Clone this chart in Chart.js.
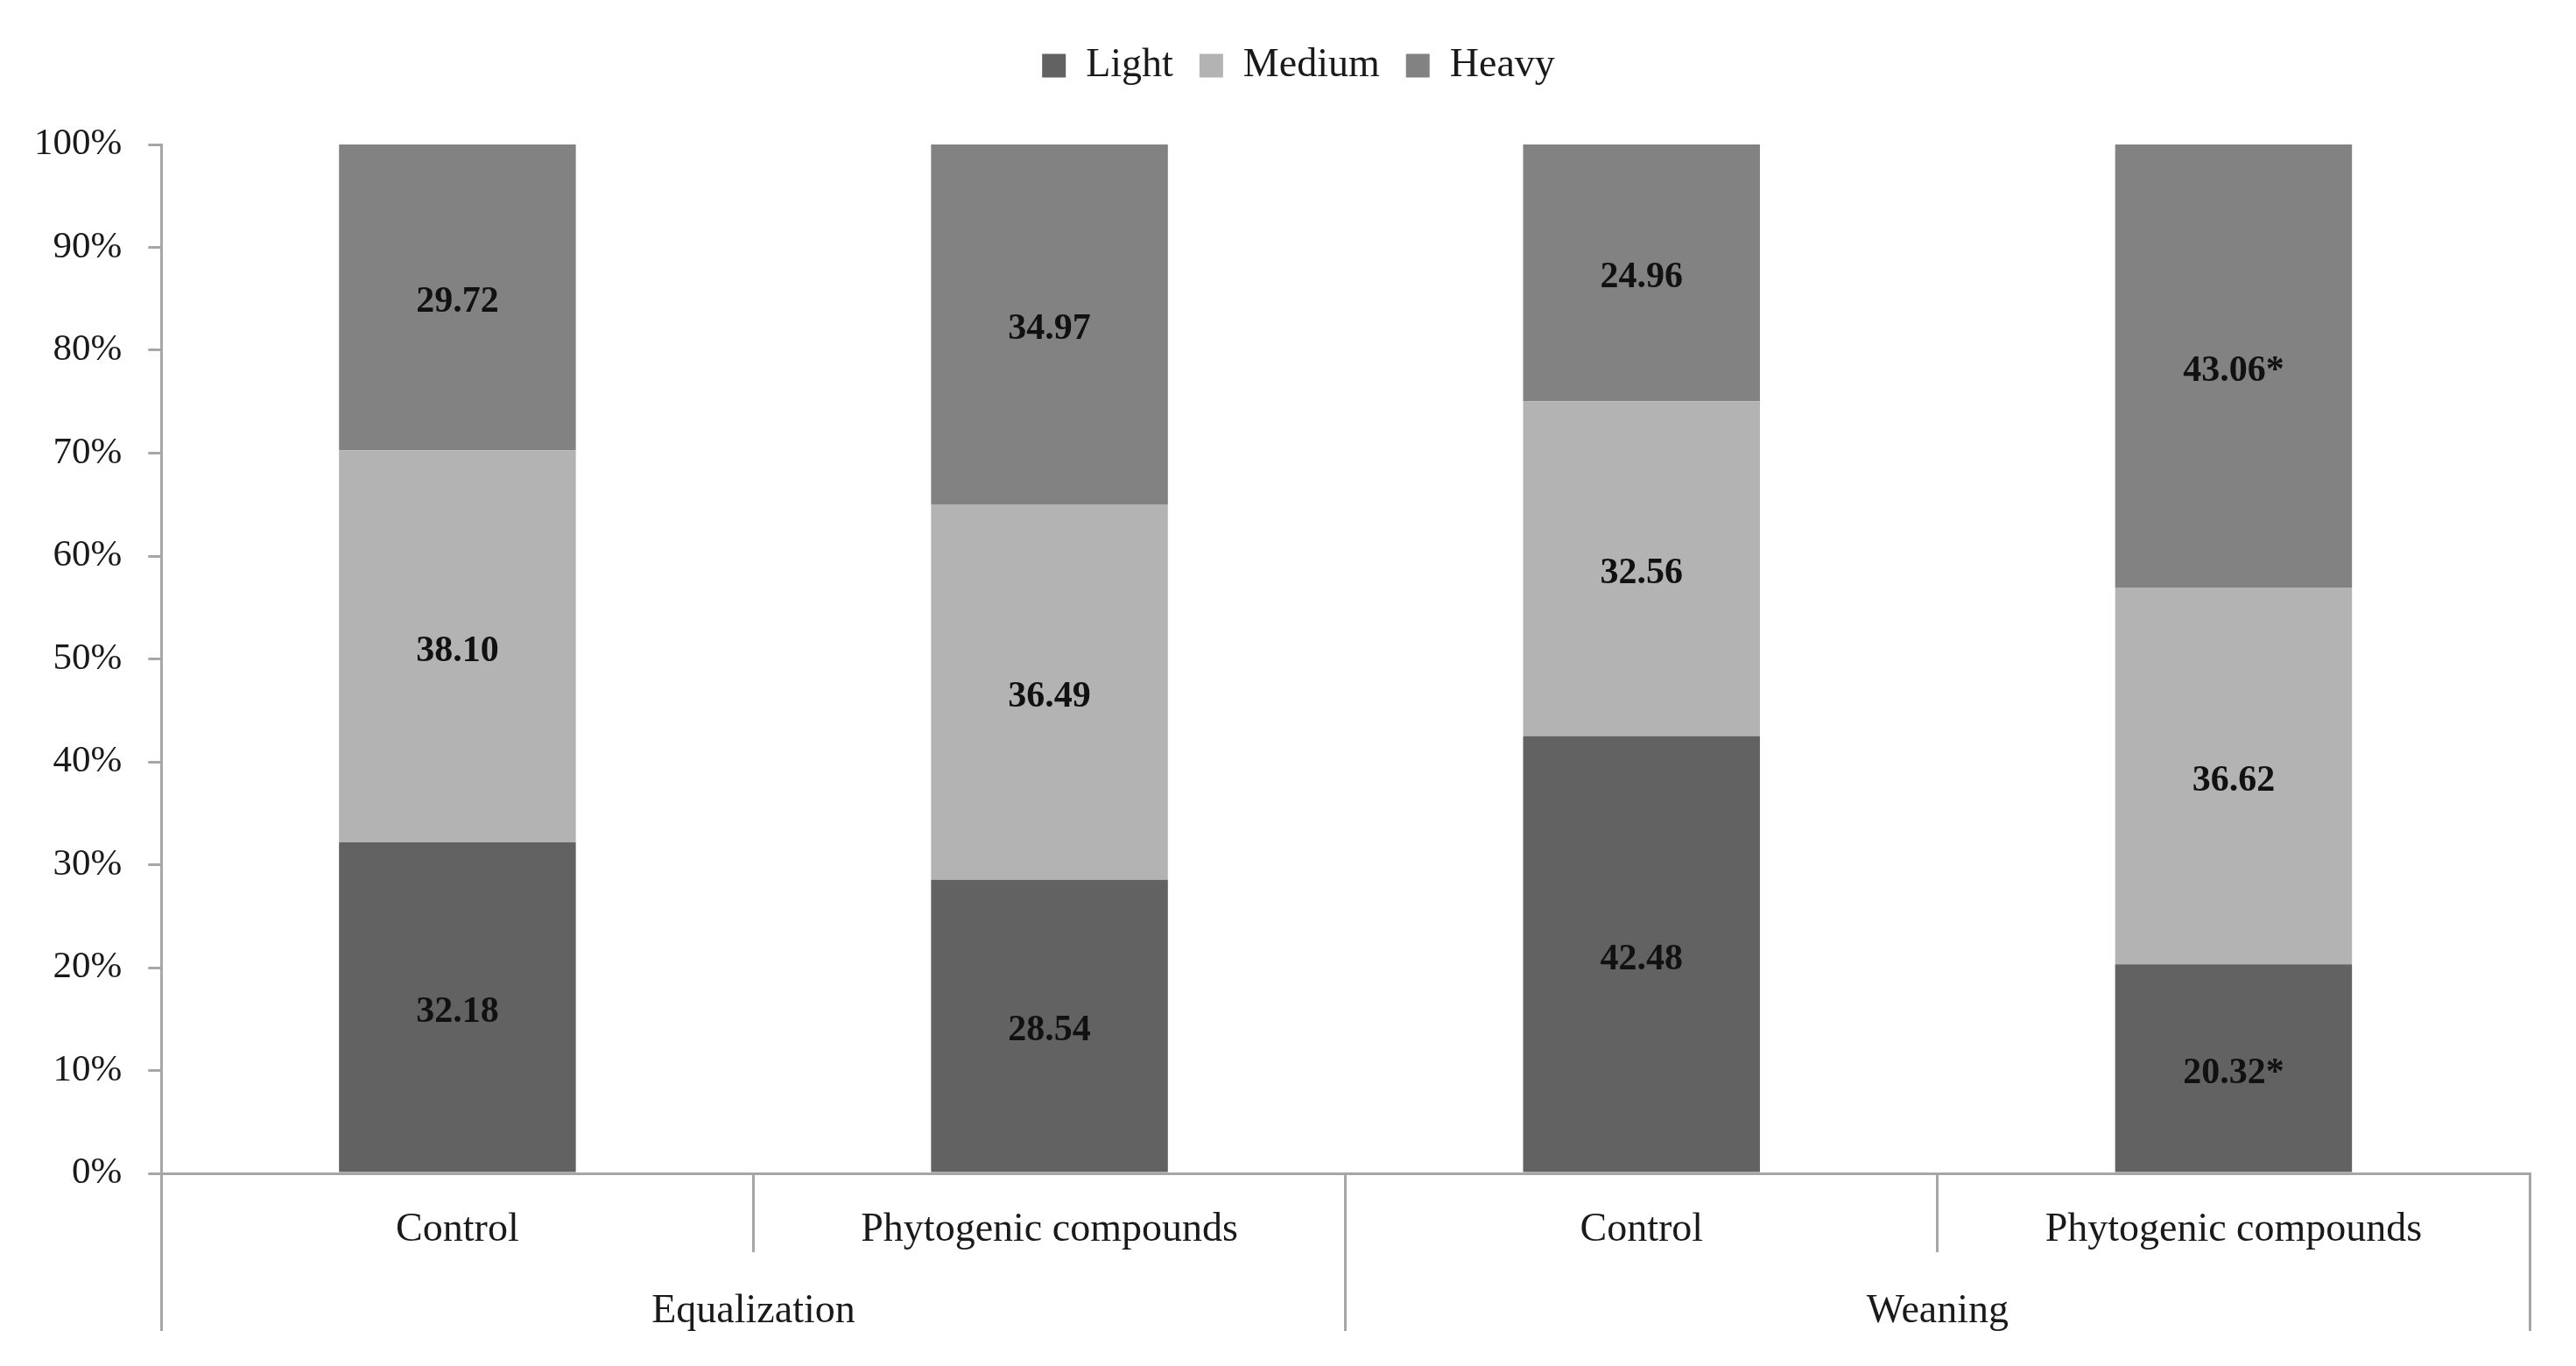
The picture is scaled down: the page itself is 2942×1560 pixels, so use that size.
<!DOCTYPE html>
<html>
<head>
<meta charset="utf-8">
<script src="https://cdn.jsdelivr.net/npm/chart.js@4.4.1/dist/chart.umd.min.js"></script>
<style>
  html, body { margin: 0; padding: 0; background: #ffffff; }
  #wrap { width: 2942px; height: 1560px; }
</style>
</head>
<body>
<div id="wrap"><canvas id="chartCanvas" width="2942" height="1560"></canvas></div>
<script>
  // Categories and groups
  const treatments = ['Control', 'Phytogenic compounds', 'Control', 'Phytogenic compounds'];
  const phases = ['Equalization', 'Weaning'];

  // Series (percent of piglets)
  const lightValues = [32.18, 28.54, 42.48, 20.32];
  const mediumValues = [38.10, 36.49, 32.56, 36.62];
  const heavyValues = [29.72, 34.97, 24.96, 43.06];

  // Significance marks shown after the value
  const lightMarks = ['', '', '', '*'];
  const mediumMarks = ['', '', '', ''];
  const heavyMarks = ['', '', '', '*'];

  const yTicks = [0, 10, 20, 30, 40, 50, 60, 70, 80, 90, 100];

  const serif = '"Liberation Serif", "Times New Roman", serif';
  const axisColor = '#a6a6a6';
  const textColor = '#1a1a1a';

  // Draw value labels at the centre of each bar segment
  const segmentLabels = {
    id: 'segmentLabels',
    afterDatasetsDraw(chart) {
      const ctx = chart.ctx;
      ctx.save();
      ctx.font = 'bold 42px ' + serif;
      ctx.fillStyle = '#111111';
      ctx.textAlign = 'center';
      ctx.textBaseline = 'middle';
      chart.data.datasets.forEach((ds, di) => {
        const meta = chart.getDatasetMeta(di);
        meta.data.forEach((bar, i) => {
          const p = bar.getCenterPoint();
          ctx.fillText(ds.data[i].toFixed(2) + ds.marks[i], p.x, p.y + 6);
        });
      });
      ctx.restore();
    }
  };

  // Extra room between legend and plot, and nudge the legend a bit right
  const legendGap = {
    id: 'legendGap',
    beforeInit(chart) {
      const fit = chart.legend.fit;
      chart.legend.fit = function() {
        fit.bind(chart.legend)();
        this.height += 57;
      };
    },
    afterLayout(chart) {
      chart.legend.left += 34;
      chart.legend.right += 34;
    }
  };

  const ctx = document.getElementById('chartCanvas').getContext('2d');

  new Chart(ctx, {
    type: 'bar',
    data: {
      labels: treatments,
      datasets: [
        { label: 'Light', data: lightValues, marks: lightMarks, backgroundColor: '#626262' },
        { label: 'Medium', data: mediumValues, marks: mediumMarks, backgroundColor: '#b3b3b3' },
        { label: 'Heavy', data: heavyValues, marks: heavyMarks, backgroundColor: '#828282' }
      ]
    },
    options: {
      responsive: false,
      maintainAspectRatio: false,
      animation: false,
      layout: { padding: { top: 22, left: 9, right: 53, bottom: 35 } },
      datasets: {
        bar: { categoryPercentage: 0.8, barPercentage: 0.5, borderWidth: 0 }
      },
      plugins: {
        legend: {
          position: 'top',
          align: 'center',
          labels: {
            boxWidth: 27,
            boxHeight: 27,
            padding: 30,
            color: textColor,
            font: { family: serif, size: 46 }
          }
        },
        title: { display: false },
        tooltip: { enabled: false }
      },
      scales: {
        x: {
          stacked: true,
          offset: true,
          weight: 0,
          grid: {
            offset: true,
            drawOnChartArea: false,
            drawTicks: true,
            tickLength: 90,
            color: axisColor,
            lineWidth: 3
          },
          border: { display: true, color: axisColor, width: 3 },
          ticks: {
            padding: -53,
            color: textColor,
            maxRotation: 0,
            autoSkip: false,
            font: { family: serif, size: 46, lineHeight: 1.2 }
          },
          afterFit(scale) { scale.height = 90; }
        },
        x2: {
          type: 'category',
          labels: phases,
          position: 'bottom',
          offset: true,
          weight: 1,
          grid: {
            offset: true,
            drawOnChartArea: false,
            drawTicks: true,
            tickLength: 90,
            color: axisColor,
            lineWidth: 3
          },
          border: { display: false },
          ticks: {
            padding: -50,
            color: textColor,
            maxRotation: 0,
            autoSkip: false,
            font: { family: serif, size: 46, lineHeight: 1.2 }
          },
          afterFit(scale) { scale.height = 95; }
        },
        y: {
          stacked: true,
          min: 0,
          max: 100,
          afterBuildTicks(scale) {
            scale.ticks = yTicks.map(v => ({ value: v }));
          },
          grid: {
            drawOnChartArea: false,
            drawTicks: true,
            tickLength: 15,
            color: axisColor,
            lineWidth: 3
          },
          border: { display: true, color: axisColor, width: 3 },
          ticks: {
            padding: 30,
            color: textColor,
            font: { family: serif, size: 43 },
            callback: v => v + '%'
          }
        }
      }
    },
    plugins: [segmentLabels, legendGap]
  });
</script>
</body>
</html>
